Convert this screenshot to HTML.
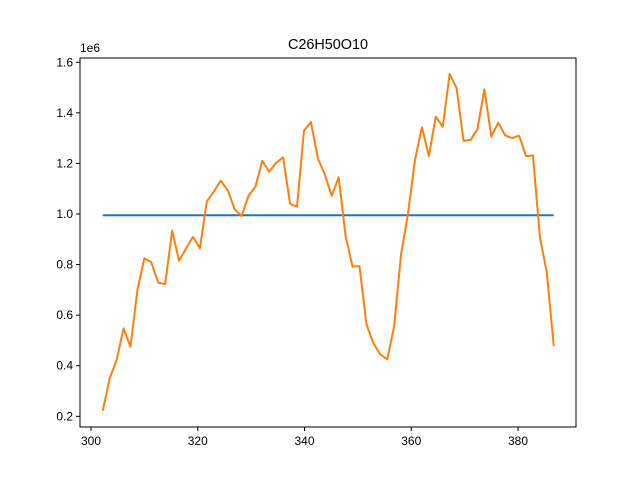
<!DOCTYPE html>
<html><head><meta charset="utf-8"><style>body{margin:0;background:#fff}svg{display:block;font-family:"Liberation Sans","DejaVu Sans",sans-serif}</style></head>
<body>
<svg id="chart" width="640" height="480" xmlns="http://www.w3.org/2000/svg">
<rect width="640" height="480" fill="#fff"/>
<text x="328" y="49" text-anchor="middle" font-size="14.4">C26H50O10</text>
<text x="80" y="52" font-size="12">1e6</text>
<g id="marks"></g>
<g id="axes"></g>
</svg>
<script>
const xStart = 302.2;
const xStep = 1.3;
const intensity = [0.222,0.350,0.423,0.548,0.475,0.700,0.825,0.809,0.728,0.723,0.934,0.815,0.864,0.910,0.864,1.049,1.088,1.132,1.095,1.019,0.992,1.072,1.108,1.210,1.167,1.203,1.224,1.040,1.029,1.329,1.364,1.220,1.157,1.072,1.145,0.913,0.792,0.794,0.565,0.489,0.445,0.425,0.557,0.842,1.003,1.214,1.343,1.229,1.385,1.345,1.554,1.497,1.289,1.293,1.336,1.493,1.306,1.361,1.311,1.300,1.310,1.229,1.232,0.910,0.768,0.478];
const meanValue = [0.995];
const xTicks = [300,320,340,360,380];
const yTicks = [0.2,0.4,0.6,0.8,1.0,1.2,1.4,1.6];
const yTickLabels = ["0.2","0.4","0.6","0.8","1.0","1.2","1.4","1.6"];

const L=80,R=576,T=58,B=427;
const xs = p => 91 + (p-300)*(518-91)/80;
const ys = v => 214 - (v-1.0)*252.9;
const NS="http://www.w3.org/2000/svg";
const marks=document.getElementById('marks'), axes=document.getElementById('axes');
function mk(tag,attrs,parent){const e=document.createElementNS(NS,tag);for(const k in attrs)e.setAttribute(k,attrs[k]);parent.appendChild(e);return e;}
const xv = intensity.map((_,i)=>xStart+i*xStep);
const x0=xv[0], x1=xv[xv.length-1];
const mean=mk('line',{x1:xs(x0),x2:xs(x1),y1:ys(meanValue[0]),y2:ys(meanValue[0]),stroke:'#1f77b4','stroke-width':2},marks);


const pl=mk('polyline',{points:intensity.map((v,i)=>xs(xv[i]).toFixed(2)+','+ys(v).toFixed(2)).join(' '),fill:'none',stroke:'#ff7f0e','stroke-width':2,'stroke-linejoin':'round'},marks);


const frame=mk('rect',{x:L,y:T,width:R-L,height:B-T,fill:'none',stroke:'#000','stroke-width':1},axes);


xTicks.forEach(t=>{const x=xs(t);
 mk('line',{x1:x,x2:x,y1:B,y2:B+4,stroke:'#000'},axes);
 const tx=mk('text',{x:x,y:B+18,'text-anchor':'middle','font-size':12},axes);tx.textContent=t;
 
 
});
yTicks.forEach((t,i)=>{const y=ys(t);
 mk('line',{x1:L-4,x2:L,y1:y,y2:y,stroke:'#000'},axes);
 const tx=mk('text',{x:L-7,y:y+4,'text-anchor':'end','font-size':12},axes);tx.textContent=yTickLabels[i];
 
 
});
</script>
</body></html>
